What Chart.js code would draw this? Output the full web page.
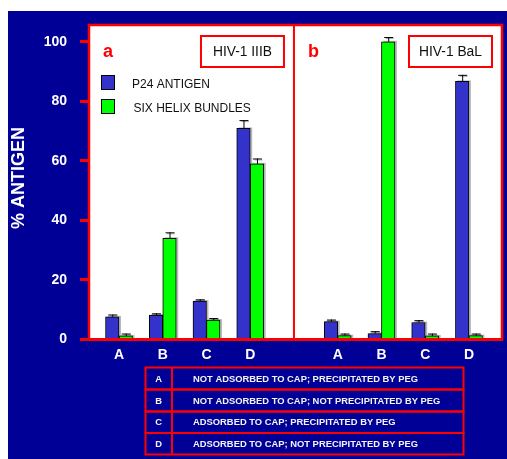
<!DOCTYPE html>
<html>
<head>
<meta charset="utf-8">
<script src="https://cdn.jsdelivr.net/npm/chart.js@4/dist/chart.umd.min.js"></script>
<style>
  html, body { margin: 0; padding: 0; background: #fff; }
  canvas { display: block; }
</style>
</head>
<body>
<canvas id="c" width="507" height="459"></canvas>
<script>
// ---- data ----
const categories = ['A', 'B', 'C', 'D'];
const panelTitles = ['HIV-1 IIIB', 'HIV-1 BaL'];
const panelLetters = ['a', 'b'];
const seriesNames = ['P24 ANTIGEN', 'SIX HELIX BUNDLES'];

// panel a: HIV-1 IIIB
const p24IIIB = [7.6, 8.2, 12.9, 70.9];
const p24IIIBErr = [0.8, 0.6, 0.6, 2.8];
const sixHelixIIIB = [1.2, 34.0, 6.5, 59.0];
const sixHelixIIIBErr = [0.8, 2.0, 0.7, 1.8];

// panel b: HIV-1 BaL
const p24BaL = [6.0, 2.0, 5.7, 86.7];
const p24BaLErr = [0.7, 0.8, 0.8, 2.2];
const sixHelixBaL = [1.3, 100.0, 1.2, 1.3];
const sixHelixBaLErr = [0.7, 1.6, 0.8, 0.7];

const yTicks = [0, 20, 40, 60, 80, 100];
const yTitle = '% ANTIGEN';

const tableKeys = ['A', 'B', 'C', 'D'];
const tableText = [
  'NOT ADSORBED TO CAP; PRECIPITATED BY PEG',
  'NOT ADSORBED TO CAP; NOT PRECIPITATED BY PEG',
  'ADSORBED TO CAP; PRECIPITATED BY PEG',
  'ADSORBED TO CAP; NOT PRECIPITATED BY PEG'
];

// ---- layout helpers ----
const posA = categories.map((_, i) => i);
const posB = categories.map((_, i) => i + categories.length + 1);
const tickPositions = [...posA, ...posB];
const tickLabels = [...categories, ...categories];
const dividerValue = categories.length;

const BLUE = '#3333CC';
const GREEN = '#00FF00';
const RED = '#FF0000';
const NAVY = '#000096';
const FONT = '"Liberation Sans", Arial, Helvetica, sans-serif';

Chart.defaults.font.family = FONT;

const toPoints = (a, b) => [
  ...posA.map((x, i) => ({ x, y: a[i] })),
  ...posB.map((x, i) => ({ x, y: b[i] }))
];
const errors = [
  [...p24IIIBErr, ...p24BaLErr],
  [...sixHelixIIIBErr, ...sixHelixBaLErr]
];

// background: navy page, white plotting panels
const backdrop = {
  id: 'backdrop',
  beforeDraw(chart) {
    const { ctx, chartArea: ca, width, height } = chart;
    ctx.save();
    ctx.fillStyle = '#fff';
    ctx.fillRect(0, 0, width, height);
    ctx.fillStyle = NAVY;
    ctx.fillRect(8, 11, width - 8, height - 11);
    ctx.fillStyle = '#fff';
    ctx.fillRect(ca.left, ca.top, ca.right - ca.left, ca.bottom - ca.top);
    ctx.restore();
  }
};

// soft drop shadow to the right of each bar
const barShadow = {
  id: 'barShadow',
  beforeDatasetsDraw(chart) {
    const { ctx } = chart;
    ctx.save();
    ctx.fillStyle = 'rgba(0,0,0,0.28)';
    chart.data.datasets.forEach((ds, di) => {
      chart.getDatasetMeta(di).data.forEach(el => {
        const p = el.getProps(['x', 'y', 'base', 'width'], true);
        ctx.fillRect(p.x - p.width / 2 + 2, p.y - 1, p.width, p.base - p.y);
      });
    });
    ctx.restore();
  }
};

// upper error bars, frame, panel labels, legend, axis title and key table
const decorations = {
  id: 'decorations',
  afterDatasetsDraw(chart) {
    const { ctx, chartArea: ca, scales: { x, y } } = chart;
    ctx.save();
    // error bars
    chart.data.datasets.forEach((ds, di) => {
      chart.getDatasetMeta(di).data.forEach((el, i) => {
        const v = ds.data[i].y;
        const top = y.getPixelForValue(v + errors[di][i]);
        const cx = el.x;
        ctx.strokeStyle = 'rgba(0,0,0,0.3)';
        ctx.lineWidth = 1;
        ctx.beginPath();
        ctx.moveTo(cx - 4 + 1.5, top + 1.5); ctx.lineTo(cx + 4 + 1.5, top + 1.5);
        ctx.stroke();
        ctx.strokeStyle = '#000';
        ctx.beginPath();
        ctx.moveTo(cx + 0.5, el.y);
        ctx.lineTo(cx + 0.5, top);
        ctx.moveTo(cx - 4, top + 0.5);
        ctx.lineTo(cx + 5, top + 0.5);
        ctx.stroke();
      });
    });
    // frame and panel divider
    ctx.strokeStyle = RED;
    ctx.lineWidth = 2.5;
    ctx.strokeRect(ca.left, ca.top, ca.right - ca.left, ca.bottom - ca.top);
    const xd = x.getPixelForValue(dividerValue);
    ctx.lineWidth = 2;
    ctx.beginPath();
    ctx.moveTo(xd, ca.top);
    ctx.lineTo(xd, ca.bottom);
    ctx.stroke();
    // bottom axis line
    ctx.lineWidth = 3;
    ctx.beginPath();
    ctx.moveTo(ca.left - 9, ca.bottom);
    ctx.lineTo(ca.right + 1, ca.bottom);
    ctx.stroke();
    ctx.restore();
  },
  afterDraw(chart) {
    const { ctx, chartArea: ca, scales: { x, y } } = chart;
    const xd = x.getPixelForValue(dividerValue);
    const panels = [[ca.left, xd], [xd, ca.right]];
    ctx.save();
    panels.forEach(([l, r], pi) => {
      // panel letter
      ctx.fillStyle = RED;
      ctx.font = 'bold 18px ' + FONT;
      ctx.textAlign = 'left';
      ctx.textBaseline = 'alphabetic';
      ctx.fillText(panelLetters[pi], l + 14, 56.5);
      // virus title box
      const bw = 83, bh = 31, bx = r - 10 - bw, by = 36;
      ctx.strokeStyle = RED;
      ctx.lineWidth = 2;
      ctx.strokeRect(bx, by, bw, bh);
      ctx.fillStyle = '#111';
      ctx.font = '13.8px ' + FONT;
      ctx.textAlign = 'center';
      ctx.textBaseline = 'middle';
      ctx.fillText(panelTitles[pi], bx + bw / 2, by + bh / 2 + 0.5);
    });
    // legend
    chart.data.datasets.forEach((ds, i) => {
      const bx = ca.left + 12, by = 75 + i * 24;
      ctx.fillStyle = ds.backgroundColor;
      ctx.fillRect(bx, by, 14, 15);
      ctx.strokeStyle = '#000';
      ctx.lineWidth = 1;
      ctx.strokeRect(bx + 0.5, by + 0.5, 13, 14);
      ctx.fillStyle = '#111';
      ctx.font = '12px ' + FONT;
      ctx.textAlign = 'left';
      ctx.textBaseline = 'middle';
      ctx.fillText(ds.label, ca.left + 43 + i * 1.5, by + 9.5);
    });
    // y axis title
    ctx.save();
    ctx.translate(19, 178);
    ctx.rotate(-Math.PI / 2);
    ctx.fillStyle = '#fff';
    ctx.font = 'bold 18px ' + FONT;
    ctx.textAlign = 'center';
    ctx.textBaseline = 'middle';
    ctx.fillText(yTitle, 0, 0);
    ctx.restore();
    // key table
    const tl = 145.5, tr = 463.5, tc = 172, rowTops = [367.5, 389.5, 411.5, 433, 454.5];
    ctx.strokeStyle = RED;
    ctx.lineWidth = 2;
    tableKeys.forEach((k, i) => {
      const t = rowTops[i], b = rowTops[i + 1];
      ctx.strokeRect(tl, t, tr - tl, b - t);
      ctx.beginPath();
      ctx.moveTo(tc, t); ctx.lineTo(tc, b);
      ctx.stroke();
      ctx.fillStyle = '#f4f4f4';
      ctx.font = 'bold 9.4px ' + FONT;
      ctx.textBaseline = 'middle';
      ctx.textAlign = 'center';
      ctx.fillText(k, (tl + tc) / 2, (t + b) / 2 + 0.5);
      ctx.textAlign = 'left';
      ctx.fillText(tableText[i], 193, (t + b) / 2 + 0.5);
    });
    ctx.restore();
  }
};

new Chart(document.getElementById('c'), {
  type: 'bar',
  data: {
    datasets: [
      {
        label: seriesNames[0],
        data: toPoints(p24IIIB, p24BaL),
        backgroundColor: BLUE,
        borderColor: '#000',
        borderWidth: 1,
        borderSkipped: 'start',
        barThickness: 13.5
      },
      {
        label: seriesNames[1],
        data: toPoints(sixHelixIIIB, sixHelixBaL),
        backgroundColor: GREEN,
        borderColor: '#000',
        borderWidth: 1,
        borderSkipped: 'start',
        barThickness: 13.5
      }
    ]
  },
  options: {
    responsive: false,
    animation: false,
    events: [],
    layout: { padding: { left: 8, top: 25, right: 5, bottom: 0 } },
    plugins: {
      legend: { display: false },
      tooltip: { enabled: false }
    },
    scales: {
      x: {
        type: 'linear',
        offset: false,
        min: -0.686,
        max: 8.756,
        grid: { display: false, drawTicks: false, offset: false },
        border: { display: false },
        afterBuildTicks: s => { s.ticks = tickPositions.map(v => ({ value: v })); },
        afterFit: s => { s.height = 119.5; },
        ticks: {
          color: '#fff',
          font: { size: 14, weight: 'bold' },
          padding: 7,
          maxRotation: 0,
          autoSkip: false,
          callback: (v, i) => tickLabels[i]
        }
      },
      y: {
        min: 0,
        max: 105.64,
        afterBuildTicks: s => { s.ticks = yTicks.map(v => ({ value: v })); },
        afterFit: s => { s.width = 81; },
        grid: {
          drawOnChartArea: false,
          drawTicks: true,
          tickLength: 9,
          tickColor: RED,
          tickWidth: 3
        },
        border: { display: false },
        ticks: {
          color: '#fff',
          font: { size: 14, weight: 'bold' },
          padding: 13
        }
      }
    }
  },
  plugins: [backdrop, barShadow, decorations]
});
</script>
</body>
</html>
